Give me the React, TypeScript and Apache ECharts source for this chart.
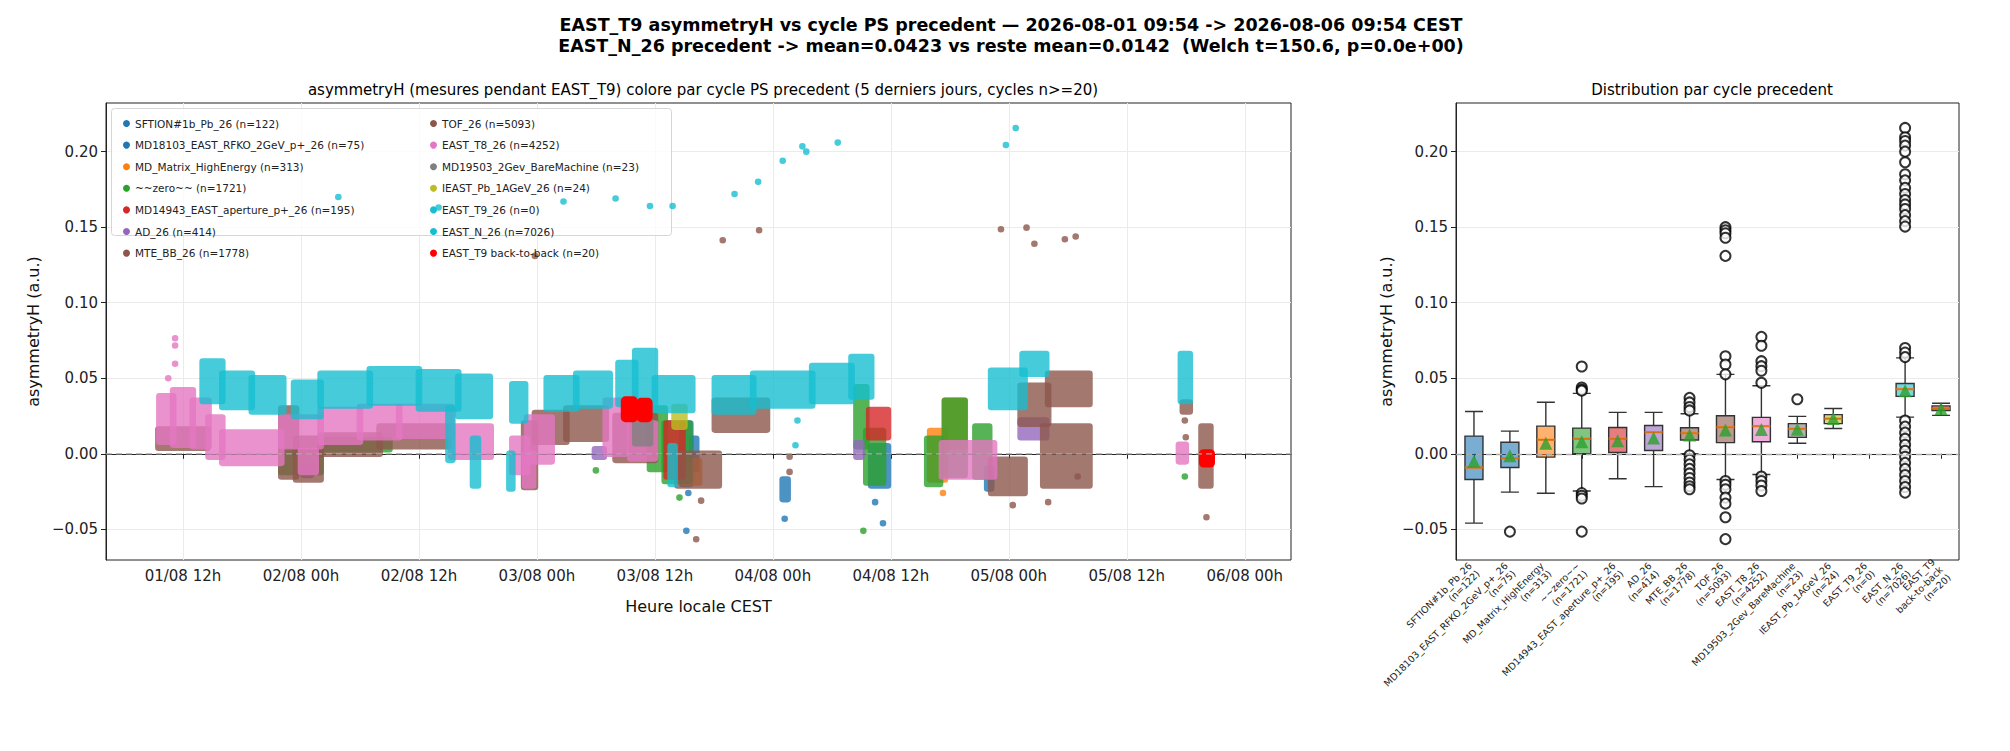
import { useEffect, useRef } from "react";
import * as echarts from "echarts";

// hours since 01/08 00h CEST ; bands are [h0, h1, lo, hi], points are [h, v]
const SFTION_bands = [[62.8, 63.6, -0.02, 0.02], [73, 73.5, -0.03, -0.017], [82, 83.7, -0.021, 0.005]];
const SFTION_pts = [[63.2, -0.051], [63.4, -0.026], [82.4, -0.032], [83.2, -0.046], [73.2, -0.043]];
const MD18103_bands = [[93.8, 94.2, -0.023, -0.01], [63.8, 64.2, -0.01, 0.01]];
const MATRIX_bands = [[63, 64.5, -0.019, -0.005], [88, 89.5, -0.017, 0.015], [89.5, 91.5, 0.005, 0.035]];
const MATRIX_pts = [[89.3, -0.026]];
const ZERO_bands = [[22, 26, -0.012, 0.002], [26, 33, 0.003, 0.009], [59.5, 61, -0.01, 0.03], [61, 63.5, -0.018, 0.02],
  [80.5, 81.5, 0.005, 0.044], [81.5, 83.2, -0.019, 0.015], [87.7, 89, -0.02, 0.01], [89.5, 91.5, -0.014, 0.035], [92.6, 94, -0.015, 0.018]];
const ZERO_pts = [[62.5, -0.029], [81.2, -0.051], [113.9, -0.015], [54, -0.011]];
const MD14943_bands = [[61.2, 62.8, -0.015, 0.02], [81.8, 83.7, 0.011, 0.029]];
const AD_bands = [[53.9, 54.8, -0.002, 0.003], [24.3, 25, -0.014, -0.008], [97.2, 99.8, 0.011, 0.022], [80.5, 81, -0.002, 0.007]];
const MTE_bands = [[66.1, 71.4, 0.016, 0.035], [113.7, 114.4, 0.028, 0.034]];
const MTE_pts = [[113.9, 0.022], [114, 0.011], [73.7, -0.002], [73.7, -0.012]];
const TOF_bands = [[9.5, 14.5, 0.004, 0.016], [22, 23.5, -0.015, 0.03], [23.5, 26, -0.017, 0.01], [26, 32, 0.0, 0.012],
  [32, 39, 0.005, 0.018], [46.7, 47.8, -0.022, 0.02], [47.8, 51, 0.008, 0.027], [51, 55, 0.01, 0.03], [56, 60, -0.004, 0.025],
  [62.3, 66.5, -0.021, 0.0], [94.2, 97.6, -0.026, -0.004], [97.2, 100, 0.02, 0.045], [100, 104.2, 0.033, 0.053],
  [99.5, 104.2, -0.021, 0.018], [115.6, 116.5, -0.021, 0.018]];
const TOF_pts = [[47.8, 0.131], [66.9, 0.1414], [70.6, 0.148], [95.2, 0.1486], [97.8, 0.1497], [98.6, 0.139], [101.7, 0.142],
  [102.8, 0.1438], [64.2, -0.0566], [64.7, -0.031], [96.4, -0.034], [100, -0.032], [103, -0.015], [116.1, -0.042]];
const T8_bands = [[9.6, 11, 0.008, 0.038], [11, 13, 0.006, 0.042], [13, 14.6, 0.005, 0.035], [14.6, 16, -0.002, 0.024],
  [16, 22, -0.006, 0.014], [22, 26, 0.005, 0.024], [24, 25.5, -0.012, 0.002], [26, 30, 0.008, 0.029], [30, 34, 0.011, 0.031],
  [34, 39.3, 0.012, 0.031], [39.3, 43.3, -0.002, 0.018], [45.5, 47, -0.012, 0.01], [46.8, 47.6, -0.021, 0.0],
  [47, 49.5, -0.005, 0.024], [55, 57, 0, 0.035], [57.5, 60, -0.003, 0.02], [89.2, 94.5, -0.015, 0.007], [113.3, 114, -0.005, 0.006]];
const T8_pts = [[11.2, 0.0765], [11.2, 0.0717], [11.2, 0.0596], [10.5, 0.05]];
const MD19503_bands = [[58, 59.5, 0.007, 0.023]];
const IEAST_bands = [[62, 63, 0.018, 0.031]];
const EASTN_bands = [[14, 16, 0.035, 0.061], [16, 19, 0.031, 0.053], [19, 22.2, 0.028, 0.05], [23.3, 26, 0.025, 0.047],
  [26, 31, 0.032, 0.053], [31, 36, 0.034, 0.056], [36, 40, 0.03, 0.054], [40, 43.2, 0.025, 0.051], [39, 39.4, -0.004, 0.03],
  [41.5, 42, -0.021, 0.01], [45.2, 45.5, -0.023, 0.0], [45.5, 46.8, 0.022, 0.046], [49, 52, 0.03, 0.05], [52, 55.4, 0.032, 0.053],
  [56.3, 58, 0.033, 0.06], [58, 60, 0.031, 0.068], [60, 63.8, 0.029, 0.05], [61.6, 62, -0.02, 0.005], [66.1, 70, 0.028, 0.05],
  [70, 76, 0.032, 0.053], [76, 80, 0.035, 0.058], [80, 82, 0.038, 0.064], [94.2, 97.6, 0.031, 0.055], [97.4, 99.8, 0.053, 0.066],
  [113.5, 114.4, 0.035, 0.066]];
const EASTN_pts = [[68.1, 0.172], [70.5, 0.18], [73, 0.194], [75, 0.2035], [75.4, 0.2], [78.6, 0.206], [95.7, 0.2044],
  [96.7, 0.2157], [74.5, 0.022], [74.3, 0.0057], [38, 0.163], [50.7, 0.167], [56, 0.169], [59.5, 0.164], [61.8, 0.164], [27.8, 0.17]];
const B2B_bands = [[57, 57.8, 0.024, 0.035], [58.6, 59.3, 0.024, 0.034], [115.8, 116.5, -0.006, 0.0]];

const seriesNames = [
  "SFTION#1b_Pb_26 (n=122)", "MD18103_EAST_RFKO_2GeV_p+_26 (n=75)", "MD_Matrix_HighEnergy (n=313)", "~~zero~~ (n=1721)",
  "MD14943_EAST_aperture_p+_26 (n=195)", "AD_26 (n=414)", "MTE_BB_26 (n=1778)", "TOF_26 (n=5093)", "EAST_T8_26 (n=4252)",
  "MD19503_2Gev_BareMachine (n=23)", "IEAST_Pb_1AGeV_26 (n=24)", "EAST_T9_26 (n=0)", "EAST_N_26 (n=7026)", "EAST_T9 back-to-back (n=20)",
];
const seriesColors = ["#1f77b4", "#1f77b4", "#ff7f0e", "#2ca02c", "#d62728", "#9467bd", "#8c564b", "#8c564b", "#e377c2",
  "#7f7f7f", "#bcbd22", "#17becf", "#17becf", "#ff0000"];
const seriesBands = [SFTION_bands, MD18103_bands, MATRIX_bands, ZERO_bands, MD14943_bands, AD_bands, MTE_bands, TOF_bands,
  T8_bands, MD19503_bands, IEAST_bands, [], EASTN_bands, B2B_bands];
const seriesPts = [SFTION_pts, [], MATRIX_pts, ZERO_pts, [], [], MTE_pts, TOF_pts, T8_pts, [], [], [], EASTN_pts, []];

const boxLabels = ["SFTION#1b_Pb_26\n(n=122)", "MD18103_EAST_RFKO_2GeV_p+_26\n(n=75)", "MD_Matrix_HighEnergy\n(n=313)",
  "~~zero~~\n(n=1721)", "MD14943_EAST_aperture_p+_26\n(n=195)", "AD_26\n(n=414)", "MTE_BB_26\n(n=1778)", "TOF_26\n(n=5093)",
  "EAST_T8_26\n(n=4252)", "MD19503_2Gev_BareMachine\n(n=23)", "IEAST_Pb_1AGeV_26\n(n=24)", "EAST_T9_26\n(n=0)",
  "EAST_N_26\n(n=7026)", "EAST_T9\nback-to-back\n(n=20)"];
const boxFill = ["#1f77b4", "#1f77b4", "#ff7f0e", "#2ca02c", "#d62728", "#9467bd", "#8c564b", "#8c564b", "#e377c2",
  "#7f7f7f", "#bcbd22", "#17becf", "#17becf", "#d62728"];
// [whisker low, Q1, median, Q3, whisker high]
const boxStats = [
  [-0.0459, -0.017, -0.0091, 0.0117, 0.028], [-0.0254, -0.0091, -0.003, 0.0076, 0.015], [-0.0261, -0.0022, 0.0093, 0.0183, 0.0341],
  [-0.0246, 0, 0.01, 0.017, 0.04], [-0.0165, 0.0009, 0.01, 0.0174, 0.0274], [-0.0217, 0.0022, 0.0143, 0.0187, 0.0274],
  [0, 0.0091, 0.0137, 0.0172, 0.0265], [-0.017, 0.0074, 0.0176, 0.0252, 0.0526], [-0.0137, 0.008, 0.0183, 0.0241, 0.045],
  [0.007, 0.0109, 0.0165, 0.02, 0.0248], [0.0167, 0.02, 0.0233, 0.0259, 0.03], null,
  [0.0243, 0.038, 0.0428, 0.0465, 0.0635], [0.0254, 0.0287, 0.03, 0.0317, 0.0335]];
const boxMeans = [-0.005, -0.0013, 0.007, 0.008, 0.0087, 0.0104, 0.0124, 0.0157, 0.0161, 0.0163, 0.0233, null, 0.0417, 0.0298];
const boxOutliers = [
  [], [-0.0515], [], [0.0578, 0.0439, 0.0425, 0.0418, -0.026, -0.0278, -0.0296, -0.0515], [], [],
  [0.037, 0.034, 0.031, 0.0287, -0.001, -0.004, -0.007, -0.01, -0.013, -0.016, -0.019, -0.0215, -0.0235],
  [0.0646, 0.0591, 0.0526, 0.15, 0.148, 0.146, 0.143, 0.131, -0.018, -0.0205, -0.0235, -0.029, -0.033, -0.042, -0.0565],
  [0.0774, 0.0715, 0.0613, 0.058, 0.055, 0.047, -0.015, -0.018, -0.021, -0.0246], [0.0361], [], [],
  [0.07, 0.067, 0.064, 0.2157, 0.2095, 0.207, 0.204, 0.2, 0.193, 0.185, 0.181, 0.176, 0.172, 0.168, 0.165, 0.162, 0.158, 0.154,
    0.1504, 0.022, 0.018, 0.014, 0.01, 0.006, 0.002, -0.002, -0.006, -0.01, -0.014, -0.018, -0.022, -0.0257],
  []];

const xTicks = [12, 24, 36, 48, 60, 72, 84, 96, 108, 120];
const yTicks = [-0.05, 0, 0.05, 0.1, 0.15, 0.2];
const X_MIN = 4.17;
const X_MAX = 124.7;

const FONT = "DejaVu Sans";
const fmtY = (v: number) => (v < 0 ? "\u2212" + Math.abs(v).toFixed(2) : v.toFixed(2));
const fmtX = (h: number) => {
  const d = String(1 + Math.floor(h / 24)).padStart(2, "0");
  const hh = String(h % 24).padStart(2, "0");
  return `${d}/08 ${hh}h`;
};
const hexA = (hex: string, a: number) => {
  const n = parseInt(hex.slice(1), 16);
  return `rgba(${(n >> 16) & 255},${(n >> 8) & 255},${n & 255},${a})`;
};

export default function App() {
  const ref = useRef<HTMLDivElement>(null);

  useEffect(() => {
    if (!ref.current) return;
    const chart = echarts.init(ref.current, null, { renderer: "svg" });
    const R = 3.3;
    const dashStyle = { color: "#a8a8a8", type: [6, 4], width: 1.3 };

    const scatterSeries = seriesNames.map((name, i) => ({
      type: "custom",
      name,
      xAxisIndex: 0,
      yAxisIndex: 0,
      itemStyle: { color: seriesColors[i] },
      encode: { x: [0, 1], y: [2, 3] },
      data: [
        ...seriesBands[i],
        ...seriesPts[i].map((p) => [p[0], p[0], p[1], p[1]]),
      ],
      renderItem: (_p: any, api: any) => {
        const a = api.coord([api.value(0), api.value(3)]);
        const b = api.coord([api.value(1), api.value(2)]);
        const r = i === 13 ? R * 1.4 : R;
        return {
          type: "rect",
          shape: { x: a[0] - r, y: a[1] - r, width: b[0] - a[0] + 2 * r, height: b[1] - a[1] + 2 * r, r },
          style: { fill: hexA(seriesColors[i], i === 13 ? 1 : 0.8) },
        };
      },
    }));

    const legendItem = (n: string) => ({ name: n, icon: "circle", itemStyle: { color: seriesColors[seriesNames.indexOf(n)] } });
    const legendBase = {
      orient: "vertical", itemWidth: 7, itemHeight: 7, itemGap: 10.6, selectedMode: false, z: 10,
      textStyle: { fontFamily: FONT, fontSize: 10.5, color: "#222" }, top: 113,
    };

    const yAxisBase = (gridIndex: number) => ({
      type: "value", gridIndex, min: -0.0703, max: 0.2322,
      name: "asymmetryH (a.u.)", nameLocation: "middle", nameGap: 62,
      nameTextStyle: { fontFamily: FONT, fontSize: 16, color: "#111" },
      axisLine: { show: true, lineStyle: { color: "#222" } },
      axisTick: { show: true, length: 5, lineStyle: { color: "#222" }, customValues: yTicks },
      axisLabel: { customValues: yTicks, formatter: fmtY, fontFamily: FONT, fontSize: 15, color: "#222", margin: 8 },
      splitLine: { show: true, lineStyle: { color: "#ebebeb" } },
    });

    chart.setOption({
      animation: false,
      title: [
        { text: "EAST_T9 asymmetryH vs cycle PS precedent \u2014 2026-08-01 09:54 -> 2026-08-06 09:54 CEST", left: 1006, top: 11, textAlign: "center",
          textStyle: { fontFamily: FONT, fontSize: 17.5, fontWeight: "bold", color: "#000" } },
        { text: "EAST_N_26 precedent -> mean=0.0423 vs reste mean=0.0142  (Welch t=150.6, p=0.0e+00)", left: 1006, top: 32, textAlign: "center",
          textStyle: { fontFamily: FONT, fontSize: 17.5, fontWeight: "bold", color: "#000" } },
        { text: "asymmetryH (mesures pendant EAST_T9) colore par cycle PS precedent (5 derniers jours, cycles n>=20)", left: 698, top: 77, textAlign: "center",
          textStyle: { fontFamily: FONT, fontSize: 15, fontWeight: "normal", color: "#000" } },
        { text: "Distribution par cycle precedent", left: 1707, top: 77, textAlign: "center",
          textStyle: { fontFamily: FONT, fontSize: 15, fontWeight: "normal", color: "#000" } },
      ],
      legend: [
        { ...legendBase, left: 118, data: seriesNames.slice(0, 7).map(legendItem) },
        { ...legendBase, left: 425, data: seriesNames.slice(7).map(legendItem) },
      ],
      graphic: [{
        type: "rect", left: 111, top: 108, shape: { width: 560, height: 127, r: 3 },
        style: { fill: "rgba(255,255,255,0.8)", stroke: "#d6d6d6", lineWidth: 1 }, z: 2,
      }],
      grid: [
        { left: 106, top: 103, width: 1185, height: 457, show: true, borderColor: "#222", borderWidth: 1 },
        { left: 1456, top: 103, width: 503, height: 457, show: true, borderColor: "#222", borderWidth: 1 },
      ],
      xAxis: [
        {
          type: "value", gridIndex: 0, min: X_MIN, max: X_MAX,
          name: "Heure locale CEST", nameLocation: "middle", nameGap: 38,
          nameTextStyle: { fontFamily: FONT, fontSize: 16, color: "#111" },
          axisLine: { show: true, lineStyle: { color: "#222" } },
          axisTick: { show: true, length: 5, lineStyle: { color: "#222" }, customValues: xTicks },
          axisLabel: { customValues: xTicks, formatter: fmtX, fontFamily: FONT, fontSize: 15, color: "#222", margin: 8 },
          splitLine: { show: true, lineStyle: { color: "#ebebeb" } },
        },
        {
          type: "category", gridIndex: 1, data: boxLabels,
          axisLine: { show: true, lineStyle: { color: "#222" } },
          axisTick: { show: true, length: 5, alignWithLabel: true, lineStyle: { color: "#222" } },
          axisLabel: { rotate: 45, interval: 0, fontFamily: FONT, fontSize: 9.5, color: "#222", lineHeight: 11, margin: 8, align: "right" },
          splitLine: { show: false },
        },
      ],
      yAxis: [yAxisBase(0), yAxisBase(1)],
      series: [
        ...scatterSeries,
        {
          type: "line", xAxisIndex: 0, yAxisIndex: 0, z: 10, symbol: "none", silent: true,
          lineStyle: dashStyle, data: [[X_MIN, 0], [X_MAX, 0]],
        },
        {
          type: "boxplot", xAxisIndex: 1, yAxisIndex: 1, boxWidth: [18, 18],
          data: boxStats.map((s, i) => s ? {
            value: s,
            itemStyle: { color: hexA(boxFill[i], 0.6), borderColor: "#333", borderWidth: 1.4 },
          } : "-"),
          markLine: {
            silent: true, symbol: "none", label: { show: false },
            lineStyle: dashStyle, data: [{ yAxis: 0 }],
          },
        },
        {
          type: "scatter", xAxisIndex: 1, yAxisIndex: 1, symbol: "rect", symbolSize: [18, 2.4],
          itemStyle: { color: "#ff7f0e" }, z: 4,
          data: boxStats.map((s, i) => s ? [i, s[2]] : null).filter(Boolean),
        },
        {
          type: "scatter", xAxisIndex: 1, yAxisIndex: 1, symbol: "emptyCircle", symbolSize: 10,
          itemStyle: { color: "#000", borderColor: "#000", borderWidth: 1.4 }, z: 3,
          data: boxOutliers.flatMap((o, i) => o.map((v) => [i, v])),
        },
        {
          type: "scatter", xAxisIndex: 1, yAxisIndex: 1, symbol: "triangle", symbolSize: 13,
          itemStyle: { color: "#2ca02c" }, z: 5,
          data: boxMeans.map((m, i) => m === null ? null : [i, m]).filter(Boolean),
        },
      ],
    });

    return () => chart.dispose();
  }, []);

  return <div ref={ref} style={{ position: "absolute", left: 0, top: 0, width: 2010, height: 751 }} />;
}
